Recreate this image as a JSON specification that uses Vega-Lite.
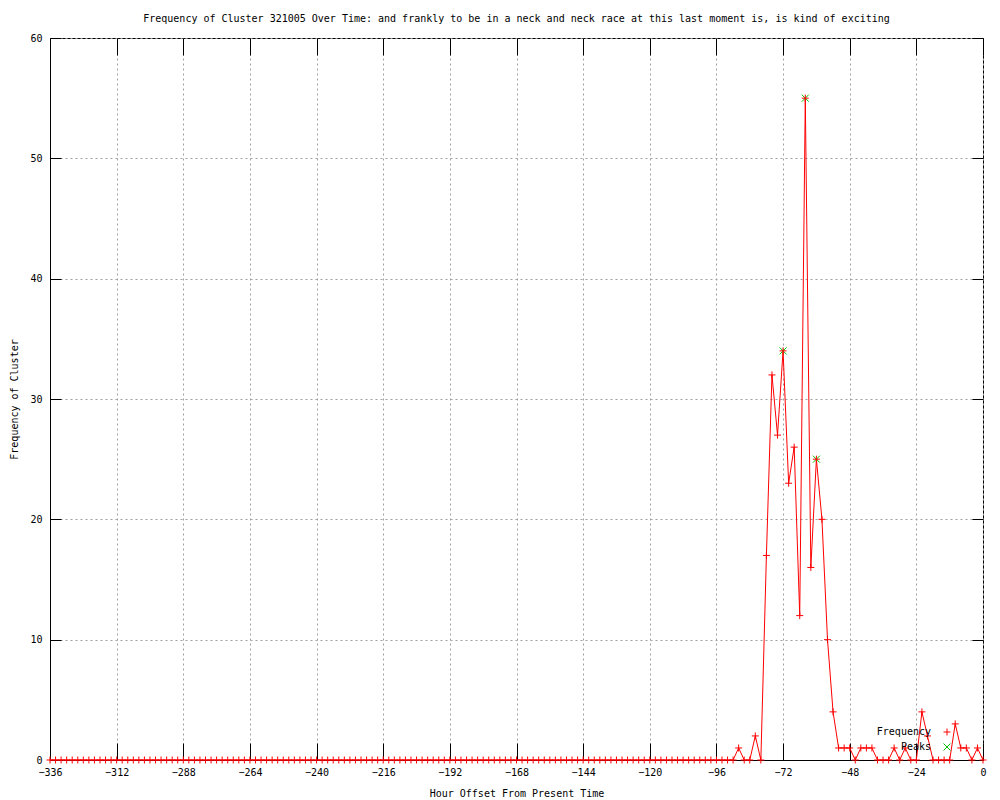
{
  "$schema": "https://vega.github.io/schema/vega-lite/v6.json",
  "width": 933,
  "height": 722,
  "autosize": "none",
  "padding": {"left": 50, "top": 38, "right": 17, "bottom": 40},
  "background": "white",
  "title": {"text": "Frequency of Cluster 321005 Over Time: and frankly to be in a neck and neck race at this last moment is, is kind of exciting", "fontSize": 10, "fontWeight": "normal", "font": "DejaVu Sans Mono", "color": "black", "offset": 9, "anchor": "middle"},
  "config": {
    "font": "DejaVu Sans Mono",
    "view": {"stroke": "black", "strokeWidth": 1},
    "axis": {"labelFont": "DejaVu Sans Mono", "labelFontSize": 10, "labelColor": "black", "titleFont": "DejaVu Sans Mono", "titleFontSize": 10, "titleFontWeight": "normal", "titleColor": "black", "domainColor": "black", "tickColor": "black", "tickWidth": 1, "gridColor": "#a0a0a0", "gridDash": [2, 3], "gridWidth": 1, "gridOpacity": 1},
    "legend": {"orient": "none", "legendX": 892, "legendY": 689, "labelAlign": "right", "labelOffset": -21, "labelFont": "DejaVu Sans Mono", "labelFontSize": 10, "labelColor": "black", "symbolSize": 49, "symbolStrokeWidth": 1, "padding": 0, "rowPadding": 3}
  },
  "datasets": {
    "freq": [
      {"hour": -336, "count": 0}, {"hour": -334, "count": 0}, {"hour": -332, "count": 0}, {"hour": -330, "count": 0}, {"hour": -328, "count": 0}, {"hour": -326, "count": 0}, {"hour": -324, "count": 0}, {"hour": -322, "count": 0}, {"hour": -320, "count": 0}, {"hour": -318, "count": 0}, {"hour": -316, "count": 0}, {"hour": -314, "count": 0},
      {"hour": -312, "count": 0}, {"hour": -310, "count": 0}, {"hour": -308, "count": 0}, {"hour": -306, "count": 0}, {"hour": -304, "count": 0}, {"hour": -302, "count": 0}, {"hour": -300, "count": 0}, {"hour": -298, "count": 0}, {"hour": -296, "count": 0}, {"hour": -294, "count": 0}, {"hour": -292, "count": 0}, {"hour": -290, "count": 0},
      {"hour": -288, "count": 0}, {"hour": -286, "count": 0}, {"hour": -284, "count": 0}, {"hour": -282, "count": 0}, {"hour": -280, "count": 0}, {"hour": -278, "count": 0}, {"hour": -276, "count": 0}, {"hour": -274, "count": 0}, {"hour": -272, "count": 0}, {"hour": -270, "count": 0}, {"hour": -268, "count": 0}, {"hour": -266, "count": 0},
      {"hour": -264, "count": 0}, {"hour": -262, "count": 0}, {"hour": -260, "count": 0}, {"hour": -258, "count": 0}, {"hour": -256, "count": 0}, {"hour": -254, "count": 0}, {"hour": -252, "count": 0}, {"hour": -250, "count": 0}, {"hour": -248, "count": 0}, {"hour": -246, "count": 0}, {"hour": -244, "count": 0}, {"hour": -242, "count": 0},
      {"hour": -240, "count": 0}, {"hour": -238, "count": 0}, {"hour": -236, "count": 0}, {"hour": -234, "count": 0}, {"hour": -232, "count": 0}, {"hour": -230, "count": 0}, {"hour": -228, "count": 0}, {"hour": -226, "count": 0}, {"hour": -224, "count": 0}, {"hour": -222, "count": 0}, {"hour": -220, "count": 0}, {"hour": -218, "count": 0},
      {"hour": -216, "count": 0}, {"hour": -214, "count": 0}, {"hour": -212, "count": 0}, {"hour": -210, "count": 0}, {"hour": -208, "count": 0}, {"hour": -206, "count": 0}, {"hour": -204, "count": 0}, {"hour": -202, "count": 0}, {"hour": -200, "count": 0}, {"hour": -198, "count": 0}, {"hour": -196, "count": 0}, {"hour": -194, "count": 0},
      {"hour": -192, "count": 0}, {"hour": -190, "count": 0}, {"hour": -188, "count": 0}, {"hour": -186, "count": 0}, {"hour": -184, "count": 0}, {"hour": -182, "count": 0}, {"hour": -180, "count": 0}, {"hour": -178, "count": 0}, {"hour": -176, "count": 0}, {"hour": -174, "count": 0}, {"hour": -172, "count": 0}, {"hour": -170, "count": 0},
      {"hour": -168, "count": 0}, {"hour": -166, "count": 0}, {"hour": -164, "count": 0}, {"hour": -162, "count": 0}, {"hour": -160, "count": 0}, {"hour": -158, "count": 0}, {"hour": -156, "count": 0}, {"hour": -154, "count": 0}, {"hour": -152, "count": 0}, {"hour": -150, "count": 0}, {"hour": -148, "count": 0}, {"hour": -146, "count": 0},
      {"hour": -144, "count": 0}, {"hour": -142, "count": 0}, {"hour": -140, "count": 0}, {"hour": -138, "count": 0}, {"hour": -136, "count": 0}, {"hour": -134, "count": 0}, {"hour": -132, "count": 0}, {"hour": -130, "count": 0}, {"hour": -128, "count": 0}, {"hour": -126, "count": 0}, {"hour": -124, "count": 0}, {"hour": -122, "count": 0},
      {"hour": -120, "count": 0}, {"hour": -118, "count": 0}, {"hour": -116, "count": 0}, {"hour": -114, "count": 0}, {"hour": -112, "count": 0}, {"hour": -110, "count": 0}, {"hour": -108, "count": 0}, {"hour": -106, "count": 0}, {"hour": -104, "count": 0}, {"hour": -102, "count": 0}, {"hour": -100, "count": 0}, {"hour": -98, "count": 0},
      {"hour": -96, "count": 0}, {"hour": -94, "count": 0}, {"hour": -92, "count": 0}, {"hour": -90, "count": 0}, {"hour": -88, "count": 1}, {"hour": -86, "count": 0}, {"hour": -84, "count": 0}, {"hour": -82, "count": 2}, {"hour": -80, "count": 0}, {"hour": -78, "count": 17}, {"hour": -76, "count": 32}, {"hour": -74, "count": 27},
      {"hour": -72, "count": 34}, {"hour": -70, "count": 23}, {"hour": -68, "count": 26}, {"hour": -66, "count": 12}, {"hour": -64, "count": 55}, {"hour": -62, "count": 16}, {"hour": -60, "count": 25}, {"hour": -58, "count": 20}, {"hour": -56, "count": 10}, {"hour": -54, "count": 4}, {"hour": -52, "count": 1}, {"hour": -50, "count": 1},
      {"hour": -48, "count": 1}, {"hour": -46, "count": 0}, {"hour": -44, "count": 1}, {"hour": -42, "count": 1}, {"hour": -40, "count": 1}, {"hour": -38, "count": 0}, {"hour": -36, "count": 0}, {"hour": -34, "count": 0}, {"hour": -32, "count": 1}, {"hour": -30, "count": 0}, {"hour": -28, "count": 1}, {"hour": -26, "count": 0},
      {"hour": -24, "count": 0}, {"hour": -22, "count": 4}, {"hour": -20, "count": 2}, {"hour": -18, "count": 0}, {"hour": -16, "count": 0}, {"hour": -14, "count": 0}, {"hour": -12, "count": 0}, {"hour": -10, "count": 3}, {"hour": -8, "count": 1}, {"hour": -6, "count": 1}, {"hour": -4, "count": 0}, {"hour": -2, "count": 1},
      {"hour": 0, "count": 0}
    ],
    "peaks": [
      {"hour": -72, "count": 34}, {"hour": -64, "count": 55}, {"hour": -60, "count": 25}
    ]
  },
  "resolve": {"axis": {"x": "independent", "y": "independent"}},
  "layer": [
    {
      "data": {"name": "freq"},
      "mark": {"type": "line", "color": "#ff0000", "strokeWidth": 1},
      "encoding": {
        "x": {"field": "hour", "type": "quantitative", "scale": {"domain": [-336, 0], "nice": false, "zero": false},
              "axis": {"orient": "bottom", "title": "Hour Offset From Present Time", "values": [-336, -312, -288, -264, -240, -216, -192, -168, -144, -120, -96, -72, -48, -24, 0], "tickSize": -17, "labelPadding": 24, "grid": true, "titlePadding": 11, "labelFlush": false, "labelOverlap": false}},
        "y": {"field": "count", "type": "quantitative", "scale": {"domain": [0, 60], "nice": false},
              "axis": {"orient": "left", "title": "Frequency of Cluster", "values": [0, 10, 20, 30, 40, 50, 60], "tickSize": -11, "labelPadding": 19, "grid": true, "titlePadding": 10, "labelFlush": false}}
      }
    },
    {
      "data": {"name": "peaks"},
      "mark": {"type": "point", "filled": false, "size": 49, "strokeWidth": 1, "opacity": 1},
      "encoding": {
        "x": {"field": "hour", "type": "quantitative",
              "axis": {"orient": "top", "title": null, "labels": false, "domain": false, "grid": false, "values": [-336, -312, -288, -264, -240, -216, -192, -168, -144, -120, -96, -72, -48, -24, 0], "tickSize": -17}},
        "y": {"field": "count", "type": "quantitative",
              "axis": {"orient": "right", "title": null, "labels": false, "domain": false, "grid": false, "values": [0, 10, 20, 30, 40, 50, 60], "tickSize": -11}},
        "color": {"datum": "Peaks", "type": "nominal", "legend": {"title": null, "encode": {"symbols": {"shape": {"condition": {"test": "datum.value === 'Frequency'", "value": "M-6,0L6,0M0,-1L0,1"}, "value": "M-1,-1L1,1M-1,1L1,-1"}}}}},
        "shape": {"datum": "Peaks", "type": "nominal", "legend": {"title": null}}
      }
    },
    {
      "data": {"name": "freq"},
      "mark": {"type": "point", "filled": false, "size": 49, "strokeWidth": 1, "opacity": 1},
      "encoding": {
        "x": {"field": "hour", "type": "quantitative", "axis": null},
        "y": {"field": "count", "type": "quantitative", "axis": null},
        "color": {"datum": "Frequency", "type": "nominal",
                  "scale": {"domain": ["Frequency", "Peaks"], "range": ["#ff0000", "#00c000"]},
                  "legend": {"title": null, "encode": {"symbols": {"shape": {"condition": {"test": "datum.value === 'Frequency'", "value": "M-6,0L6,0M0,-1L0,1"}, "value": "M-1,-1L1,1M-1,1L1,-1"}}}}},
        "shape": {"datum": "Frequency", "type": "nominal",
                  "scale": {"domain": ["Frequency", "Peaks"], "range": ["M-1,0L1,0M0,-1L0,1", "M-1,-1L1,1M-1,1L1,-1"]},
                  "legend": {"title": null}}
      }
    }
  ]
}
